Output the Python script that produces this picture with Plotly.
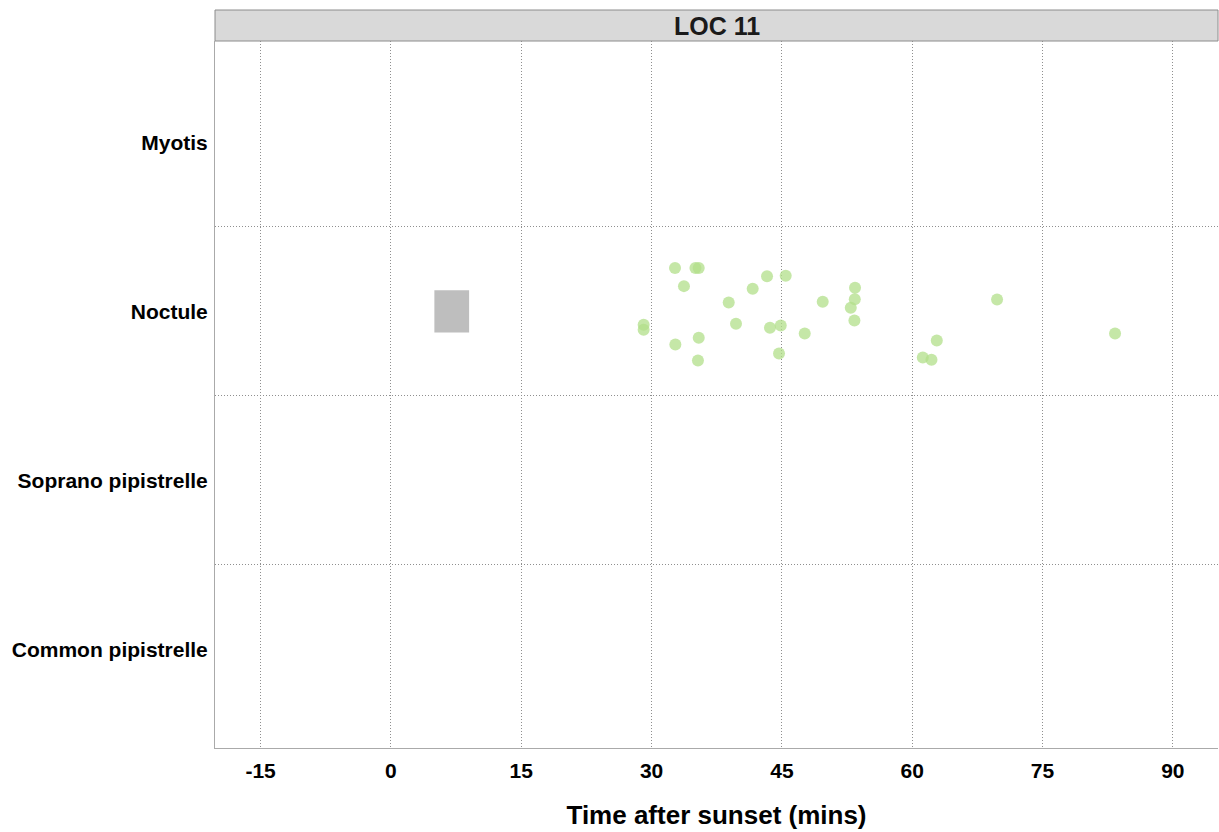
import plotly.graph_objects as go

categories = ["Common pipistrelle", "Soprano pipistrelle", "Noctule", "Myotis"]
cat_pos = [1, 2, 3, 4]
x_ticks = [-15, 0, 15, 30, 45, 60, 75, 90]

# Noctule detections (time after sunset, jittered y position)
noctule_x = [32.70, 35.05, 35.43, 33.73, 43.29, 45.44, 41.64, 38.88, 29.09, 29.09,
             39.72, 43.63, 44.87, 47.63, 32.74, 35.43, 35.34, 44.67, 49.70, 53.42,
             53.39, 52.93, 53.35, 69.77, 62.83, 61.22, 62.22, 83.35]
noctule_y = [3.256, 3.256, 3.256, 3.149, 3.208, 3.210, 3.133, 3.052, 2.920, 2.891,
             2.926, 2.902, 2.916, 2.869, 2.804, 2.843, 2.709, 2.750, 3.056, 3.139,
             3.072, 3.021, 2.946, 3.070, 2.827, 2.727, 2.713, 2.869]

# Emergence box (Noctule)
box_x = [5, 9]
box_y = [2.875, 3.125]

panel_title = "LOC 11"
x_title = "Time after sunset (mins)"

FONT = "Liberation Sans, Arial, Helvetica, sans-serif"
GRID = "#8f8f8f"

fig = go.Figure()

fig.add_trace(go.Scatter(
    x=[box_x[0], box_x[1], box_x[1], box_x[0], box_x[0]],
    y=[box_y[0], box_y[0], box_y[1], box_y[1], box_y[0]],
    fill="toself", fillcolor="#bebebe", mode="lines",
    line=dict(width=0, color="#bebebe"), hoverinfo="skip", showlegend=False))

fig.add_trace(go.Scatter(
    x=noctule_x, y=noctule_y, mode="markers",
    marker=dict(size=12, color="rgba(178,223,138,0.75)", line=dict(width=0)),
    showlegend=False))

# strip
fig.add_shape(type="rect", xref="paper", yref="paper", x0=0, x1=1, y0=1, y1=1 + 31 / 707,
              fillcolor="#d9d9d9", line=dict(color="#8c8c8c", width=1), layer="above")
fig.add_annotation(text="<b>" + panel_title + "</b>", xref="paper", yref="paper",
                   x=0.5, y=1 + 15.5 / 707, showarrow=False,
                   font=dict(family=FONT, size=25, color="#1a1a1a"),
                   xanchor="center", yanchor="middle")

fig.update_layout(
    width=1219, height=832,
    margin=dict(l=215, r=1, t=41, b=84),
    paper_bgcolor="white", plot_bgcolor="white",
    font=dict(family=FONT, color="black"),
    xaxis=dict(range=[-20.25, 95.2], tickvals=x_ticks,
               ticktext=["<b>" + str(v) + "</b>" for v in x_ticks],
               showgrid=True, gridcolor=GRID, griddash="1px,2px", gridwidth=1,
               zeroline=False, showline=True, linecolor="#aaaaaa", linewidth=1,
               ticks="", ticklabelstandoff=4,
               tickfont=dict(family=FONT, size=21, color="black"),
               title=dict(text="<b>" + x_title + "</b>", standoff=24,
                          font=dict(family=FONT, size=26, color="black"))),
    yaxis=dict(range=[0.415, 4.6], tickvals=cat_pos,
               ticktext=["<b>" + c + "</b>" for c in categories],
               showgrid=False, zeroline=False, showline=True, linecolor="#aaaaaa", linewidth=1,
               ticks="", ticklabelstandoff=2,
               tickfont=dict(family=FONT, size=21, color="black"),
               minor=dict(tickvals=[1.5, 2.5, 3.5], showgrid=True, gridcolor=GRID,
                          griddash="1px,2px", gridwidth=1, ticks="")),
)

fig.write_html("out.html", config={"displayModeBar": False},
               post_script="document.body.style.margin='0';document.body.style.padding='0';")
